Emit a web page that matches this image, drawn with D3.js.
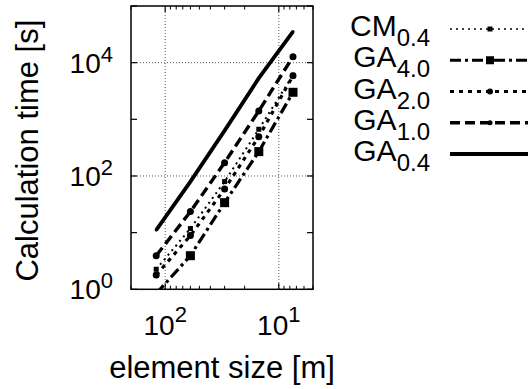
<!DOCTYPE html>
<html><head><meta charset="utf-8">
<script src="https://cdn.jsdelivr.net/npm/d3@7"></script>
<style>body{margin:0;background:#fff}svg{display:block}text{font-family:"Liberation Sans",Arial,Helvetica,sans-serif;fill:#000}</style>
</head><body>
<svg id="c" width="528" height="389"></svg>
<script>
// ---- data ----
const elementSize = [120, 60, 30, 15, 7.5];
const cm04 = [2.26, 11.8, 79.6, 667, 6000];
const ga40 = [0.84, 3.92, 33.8, 269, 3000];
const ga20 = [1.79, 8.86, 59, 494, 5890];
const ga10 = [3.92, 23.5, 172, 1404, 12770];
const ga04 = [11.1, 79.6, 633, 5320, 35400];
const seriesMain = ["CM", "GA", "GA", "GA", "GA"];
const seriesSub = ["0.4", "4.0", "2.0", "1.0", "0.4"];
const yTickLabels = [[1, "0"], [100, "2"], [10000, "4"]];
const xTickLabels = [[100, "2"], [10, "1"]];

const series = [
  {vals: cm04, dash: "2,4", w: 2, mk: "sq", ms: 5, lm: 5},
  {vals: ga40, dash: "11,4,3,4", w: 3.2, mk: "sq", ms: 9, lm: 8},
  {vals: ga20, dash: "4,5", w: 3.2, mk: "ci", ms: 7, lm: 6},
  {vals: ga10, dash: "10,5", w: 3.4, mk: "ci", ms: 7, lm: 5},
  {vals: ga04, dash: null, w: 3.8, mk: "ci", ms: 3, lm: 3}
];

const svg = d3.select("#c");
const L = 131, R = 313, T = 6, B = 289.3;
const x = d3.scaleLog().domain([200, 5]).range([L, R]);
const y = d3.scaleLog().domain([1, 1e5]).range([B, T]);

// grid
const g = svg.append("g");
[100, 10000].forEach(v => g.append("line").attr("x1", L).attr("x2", R).attr("y1", y(v)).attr("y2", y(v))
  .attr("stroke", "#555").attr("stroke-width", 1).attr("stroke-dasharray", "1,2"));
[100, 10].forEach(v => g.append("line").attr("y1", T).attr("y2", B).attr("x1", x(v)).attr("x2", x(v))
  .attr("stroke", "#555").attr("stroke-width", 1).attr("stroke-dasharray", "1,2"));

// ticks
const yt = [1, 10, 100, 1000, 1e4, 1e5];
yt.forEach(v => {
  g.append("line").attr("x1", L).attr("x2", L + 6).attr("y1", y(v)).attr("y2", y(v)).attr("stroke", "#000").attr("stroke-width", 1.2);
  g.append("line").attr("x1", R).attr("x2", R - 6).attr("y1", y(v)).attr("y2", y(v)).attr("stroke", "#000").attr("stroke-width", 1.2);
});
const xMaj = [100, 10];
const xMin = [200, 90, 80, 70, 60, 50, 40, 30, 20, 9, 8, 7, 6, 5];
xMaj.forEach(v => {
  g.append("line").attr("x1", x(v)).attr("x2", x(v)).attr("y1", B).attr("y2", B - 6).attr("stroke", "#000").attr("stroke-width", 1.2);
  g.append("line").attr("x1", x(v)).attr("x2", x(v)).attr("y1", T).attr("y2", T + 6).attr("stroke", "#000").attr("stroke-width", 1.2);
});
xMin.forEach(v => {
  g.append("line").attr("x1", x(v)).attr("x2", x(v)).attr("y1", B).attr("y2", B - 3.5).attr("stroke", "#000").attr("stroke-width", 1);
  g.append("line").attr("x1", x(v)).attr("x2", x(v)).attr("y1", T).attr("y2", T + 3.5).attr("stroke", "#000").attr("stroke-width", 1);
});

// frame
svg.append("rect").attr("x", L).attr("y", T).attr("width", R - L).attr("height", B - T)
  .attr("fill", "none").attr("stroke", "#000").attr("stroke-width", 1.5);

// tick labels
yTickLabels.forEach(([v, e]) => {
  const t = svg.append("text").attr("x", 113).attr("y", y(v) + 10).attr("text-anchor", "end").attr("font-size", 28);
  t.append("tspan").text("10");
  t.append("tspan").attr("dy", -11).attr("font-size", 22).text(e);
});
xTickLabels.forEach(([v, e]) => {
  const t = svg.append("text").attr("x", x(v)).attr("y", 335).attr("text-anchor", "middle").attr("font-size", 28);
  t.append("tspan").text("10");
  t.append("tspan").attr("dy", -13).attr("font-size", 22).text(e);
});

// axis titles
svg.append("text").attr("x", (L + R) / 2).attr("y", 378).attr("text-anchor", "middle").attr("font-size", 31).text("element size [m]");
svg.append("text").attr("transform", `translate(38,${(T + B) / 2 + 3}) rotate(-90)`).attr("text-anchor", "middle")
  .attr("font-size", 31).text("Calculation time [s]");

// clip
svg.append("clipPath").attr("id", "clip").append("rect").attr("x", L).attr("y", T).attr("width", R - L).attr("height", B - T);
const plot = svg.append("g").attr("clip-path", "url(#clip)");

function marker(sel, type, cx, cy, s) {
  if (type === "sq") sel.append("rect").attr("x", cx - s / 2).attr("y", cy - s / 2).attr("width", s).attr("height", s).attr("fill", "#000");
  else sel.append("circle").attr("cx", cx).attr("cy", cy).attr("r", s / 2).attr("fill", "#000");
}

const line = d3.line().x(d => x(d[0])).y(d => y(d[1]));
series.forEach(s => {
  const pts = elementSize.map((e, i) => [e, s.vals[i]]);
  plot.append("path").attr("d", line(pts)).attr("fill", "none").attr("stroke", "#000")
    .attr("stroke-width", s.w).attr("stroke-dasharray", s.dash);
  pts.forEach(p => marker(plot, s.mk, x(p[0]), y(p[1]), s.ms));
});

// legend
const legY = d3.scaleLinear().domain([0, 4]).range([29, 154]);
series.forEach((s, i) => {
  const ly = legY(i);
  svg.append("line").attr("x1", 450).attr("x2", 530).attr("y1", ly).attr("y2", ly).attr("stroke", "#000")
    .attr("stroke-width", i === 0 ? 1.6 : s.w).attr("stroke-dasharray", s.dash);
  marker(svg, s.mk, 490, ly, s.lm);
  const t = svg.append("text").attr("x", 430).attr("y", ly + 7).attr("text-anchor", "end").attr("font-size", 30);
  t.append("tspan").text(seriesMain[i]);
  t.append("tspan").attr("dy", 10).attr("font-size", 24).text(seriesSub[i]);
});
</script>
</body></html>
